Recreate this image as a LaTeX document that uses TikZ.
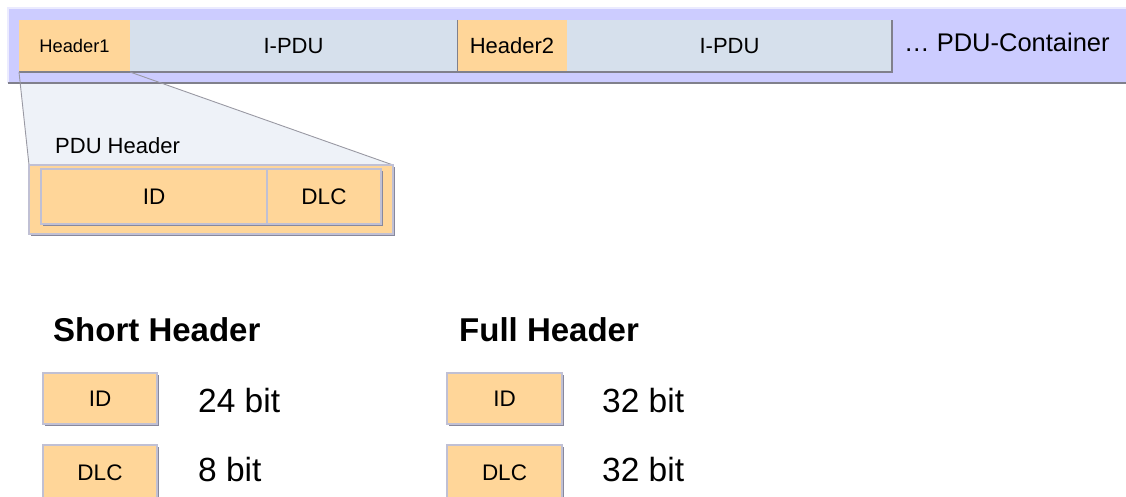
\documentclass[tikz,border=0pt]{standalone}
\usepackage{fontspec}
\setmainfont{Liberation Sans}
\usetikzlibrary{shadows}
\definecolor{purp}{RGB}{204,204,255}
\definecolor{orng}{RGB}{255,214,153}
\definecolor{ipdu}{RGB}{214,224,236}
\definecolor{trap}{RGB}{238,242,248}
\definecolor{shad}{RGB}{136,136,156}
\definecolor{bline}{RGB}{192,192,212}
\definecolor{edge}{RGB}{128,128,140}
\tikzset{
  cell/.style={anchor=north west, inner sep=0pt, outer sep=0pt, font=\fontsize{22}{26}\selectfont},
  hdrcell/.style={cell, fill=orng},
  pducell/.style={cell, fill=ipdu},
  obox/.style={anchor=north west, inner sep=0pt, outer sep=0pt, fill=orng, draw=bline, line width=1.2pt,
    drop shadow={shadow xshift=2pt, shadow yshift=-2pt, fill=shad, opacity=1},
    font=\fontsize{22.5}{26}\selectfont},
  bigtxt/.style={anchor=west, inner sep=0pt, font=\fontsize{33.5}{40}\selectfont},
  bold/.style={anchor=west, inner sep=0pt, font=\bfseries\fontsize{33}{38}\selectfont},
  zoomline/.style={draw=edge!80, line width=0.9pt}
}
\begin{document}
\begin{tikzpicture}[x=1pt,y=-1pt]
\useasboundingbox (0,0) rectangle (1126,497);
% PDU header box (placed first for trapezoid)
\node[obox, minimum width=364pt, minimum height=69pt] (hb) at (29,165) {};
% container
\node[anchor=north west, inner sep=0pt, outer sep=0pt, fill=purp, minimum width=1118pt, minimum height=75pt] (cont) at (8,8) {};
\draw[white!60!purp, line width=1.2pt] (cont.south west) -- (cont.north west) -- (cont.north east);
% inner row
\node[hdrcell, minimum width=111pt, minimum height=52pt, font=\fontsize{18.3}{22}\selectfont] (h1) at (19,20) {Header1};
\node[pducell, minimum width=327pt, minimum height=52pt] (p1) at (130,20) {I-PDU};
\node[hdrcell, minimum width=110pt, minimum height=52pt] (h2) at (457,20) {Header2};
\node[pducell, minimum width=325pt, minimum height=52pt] (p2) at (567,20) {I-PDU};
\draw[edge, line width=1.2pt] (h1.south west) -- (p2.south east) -- (p2.north east);
\draw[edge, line width=1pt] (h2.north west) -- (h2.south west);
\node[anchor=west, inner sep=0pt, font=\fontsize{25.5}{30}\selectfont] (pc) at (904,42) {… PDU-Container};
% trapezoid
\fill[trap] (h1.south west) -- (h1.south east) -- (hb.north east) -- (hb.north west) -- cycle;
\fill[purp] ([yshift=-0.6pt]h1.south west) rectangle (cont.south east);
\draw[edge, line width=1.2pt] (cont.south west) -- (cont.south east);
\draw[edge, line width=1.2pt] (h1.south west) -- (p2.south east);
\draw[zoomline] (h1.south west) -- (hb.north west);
\draw[zoomline] (h1.south east) -- (hb.north east);
% redraw header box on top
\node[obox, minimum width=364pt, minimum height=69pt] (hb2) at (29,165) {};
\node[anchor=west, inner sep=0pt, font=\fontsize{22}{26}\selectfont] (pdh) at (55,146) {PDU Header};
\node[obox, minimum width=226pt, minimum height=55pt] (hid) at (41,169) {ID};
\node[obox, minimum width=114pt, minimum height=55pt] (hdlc) at (267,169) {DLC};
% lower part
\node[bold] (sh) at (53,330) {Short Header};
\node[bold] (fh) at (459,330) {Full Header};
\node[obox, minimum width=114pt, minimum height=51pt] (sid) at (43,373) {ID};
\node[obox, minimum width=114pt, minimum height=55pt] (sdlc) at (43,445) {DLC};
\node[obox, minimum width=115pt, minimum height=51pt] (fid) at (447,373) {ID};
\node[obox, minimum width=115pt, minimum height=55pt] (fdlc) at (447,445) {DLC};
\node[bigtxt] (t1) at (198,401) {24 bit};
\node[bigtxt] (t2) at (198,470) {8 bit};
\node[bigtxt] (t3) at (602,401) {32 bit};
\node[bigtxt] (t4) at (602,470) {32 bit};
\end{tikzpicture}
\end{document}
